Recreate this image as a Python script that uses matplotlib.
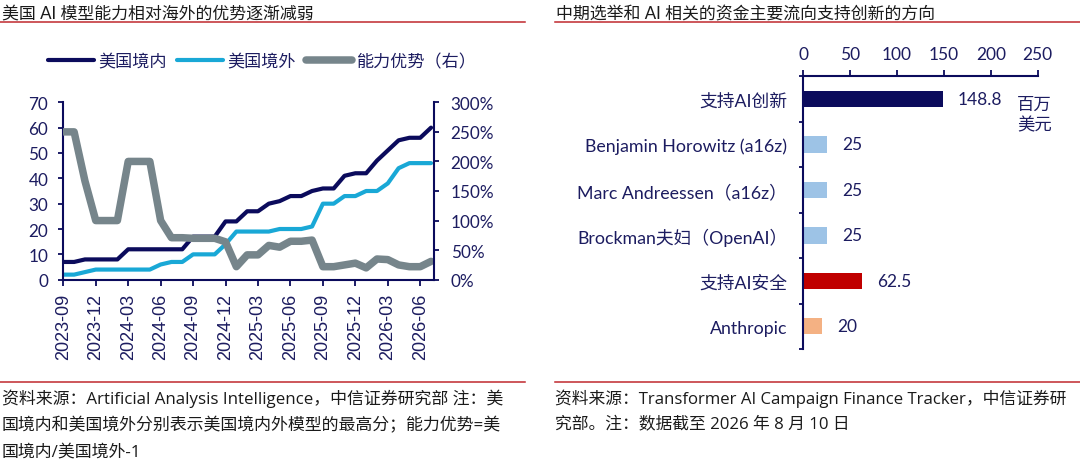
import matplotlib
matplotlib.use('Agg')
import matplotlib.pyplot as plt
from matplotlib.lines import Line2D
from matplotlib.ticker import MultipleLocator, FixedLocator

plt.rcParams['font.family'] = ['Lato', 'Noto Sans CJK SC', 'DejaVu Sans']

# ---------------- data: left chart ----------------
months = ["2023-09", "2023-10", "2023-11", "2023-12", "2024-01", "2024-02", "2024-03",
          "2024-04", "2024-05", "2024-06", "2024-07", "2024-08", "2024-09", "2024-10",
          "2024-11", "2024-12", "2025-01", "2025-02", "2025-03", "2025-04", "2025-05",
          "2025-06", "2025-07", "2025-08", "2025-09", "2025-10", "2025-11", "2025-12",
          "2026-01", "2026-02", "2026-03", "2026-04", "2026-05", "2026-06", "2026-07"]
us_domestic = [7, 7, 8, 8, 8, 8, 12, 12, 12, 12, 12, 12, 17, 17, 17, 23, 23, 27, 27, 30,
               31, 33, 33, 35, 36, 36, 41, 42, 42, 47, 51, 55, 56, 56, 60]
us_overseas = [2, 2, 3, 4, 4, 4, 4, 4, 4, 6, 7, 7, 10, 10, 10, 14, 19, 19, 19, 19,
               20, 20, 20, 21, 30, 30, 33, 33, 35, 35, 38, 44, 46, 46, 46]
advantage_pct = [250, 250, 167, 100, 100, 100, 200, 200, 200, 100, 71, 71, 70, 70, 70, 64,
                 22, 42, 42, 58, 55, 65, 65, 67, 22, 22, 25, 28, 20, 35, 34, 25, 22, 22, 31]
tick_labels = ["2023-09", "2023-12", "2024-03", "2024-06", "2024-09", "2024-12",
               "2025-03", "2025-06", "2025-09", "2025-12", "2026-03", "2026-06"]
series_names = ["美国境内", "美国境外", "能力优势（右）"]

# ---------------- data: right chart ----------------
categories = ["支持AI创新", "Benjamin Horowitz (a16z)", "Marc Andreessen（a16z）",
              "Brockman夫妇（OpenAI）", "支持AI安全", "Anthropic"]
amounts = [148.8, 25, 25, 25, 62.5, 20]
amount_labels = ["148.8", "25", "25", "25", "62.5", "20"]
unit_label = "百万\n美元"

# ---------------- style ----------------
NAVY = '#0b0b5c'
CYAN = '#19a8d6'
GRAY = '#76858b'
TXT_NAVY = '#1c1c60'
RED_RULE = '#c0282d'
BAR_COLORS = ['#0b0b5c', '#9dc3e6', '#9dc3e6', '#9dc3e6', '#c00000', '#f4b183']
TEXT_DARK = '#1a1a1a'
NOTE_FONT = ['Open Sans', 'Noto Sans CJK SC', 'DejaVu Sans']

W, H = 1080, 464
fig = plt.figure(figsize=(W / 100, H / 100), dpi=100)
fig.patch.set_facecolor('white')

def fx(px):
    return px / W

def fy(py):
    return 1 - py / H

# ---------------- left chart ----------------
L, R, T, B = 63.3, 434.3, 103.3, 280.7
ax1 = fig.add_axes([fx(L), fy(B), (R - L) / W, (B - T) / H])
ax2 = ax1.twinx()

x = list(range(len(months)))
l1, = ax1.plot(x, us_domestic, color=NAVY, lw=3.0, solid_capstyle='round',
               solid_joinstyle='round', zorder=3)
l2, = ax1.plot(x, us_overseas, color=CYAN, lw=3.0, solid_capstyle='round',
               solid_joinstyle='round', zorder=2)
l3, = ax2.plot(x, [v / 100 for v in advantage_pct], color=GRAY, lw=5.4,
               solid_capstyle='round', solid_joinstyle='round')

ax1.set_xlim(0, 34.3)
ax1.set_ylim(0, 70)
ax2.set_ylim(0, 3.0)
ax1.yaxis.set_major_locator(MultipleLocator(10))
ax2.set_yticks([0, 0.5, 1.0, 1.5, 2.0, 2.5, 3.0])
ax2.set_yticklabels(['0%', '50%', '100%', '150%', '200%', '250%', '300%'])
tick_pos = [months.index(t) for t in tick_labels]
ax1.set_xticks(tick_pos)
ax1.set_xticklabels(tick_labels, rotation=90, family=['Liberation Sans', 'DejaVu Sans'],
                    fontsize=13)

for a in (ax1, ax2):
    for s in ('left', 'right', 'bottom'):
        a.spines[s].set_color(NAVY)
        a.spines[s].set_linewidth(1.5)
    a.spines['top'].set_visible(False)
    a.set_facecolor('none')
ax1.spines['right'].set_visible(False)
ax2.spines['left'].set_visible(False)
ax2.spines['bottom'].set_visible(False)

ax1.tick_params(axis='y', direction='out', length=3.8, width=1.3, color=NAVY,
                labelcolor=TXT_NAVY, labelsize=12.3, pad=7)
ax1.tick_params(axis='x', direction='out', length=4.5, width=1.3, color=NAVY,
                labelcolor=TXT_NAVY, pad=5)
ax2.tick_params(axis='y', direction='out', length=3.8, width=1.3, color=NAVY,
                labelcolor=TXT_NAVY, labelsize=12.3, pad=8)

fig.legend([l1, l2, l3], series_names, loc='center',
           bbox_to_anchor=(fx(262), fy(62)), ncol=3, frameon=False, fontsize=12.3,
           handlelength=2.7, handletextpad=0.25, columnspacing=0.6,
           labelcolor=TXT_NAVY, borderaxespad=0, borderpad=0)

# ---------------- right chart ----------------
L2, R2, T2, B2 = 803.3, 1037.7, 77.3, 350.0
ax3 = fig.add_axes([fx(L2), fy(B2), (R2 - L2) / W, (B2 - T2) / H])
ypos = list(range(len(categories)))
bars = ax3.barh(ypos, amounts, height=0.36, color=BAR_COLORS, zorder=2)
ax3.set_xlim(0, 250)
ax3.set_ylim(len(categories) - 0.5, -0.5)
ax3.xaxis.tick_top()
ax3.xaxis.set_major_locator(MultipleLocator(50))
ax3.set_yticks(ypos)
ax3.set_yticklabels(categories)
ax3.yaxis.set_minor_locator(FixedLocator([i + 0.5 for i in range(-1, len(categories))]))
for s in ('right', 'bottom'):
    ax3.spines[s].set_visible(False)
for s in ('left', 'top'):
    ax3.spines[s].set_color(NAVY)
    ax3.spines[s].set_linewidth(1.5)
ax3.tick_params(axis='x', direction='out', length=4, width=1.3, color=NAVY,
                labelcolor=TXT_NAVY, labelsize=12.5, pad=6)
ax3.tick_params(axis='y', which='major', length=0, labelcolor=TXT_NAVY,
                labelsize=12.8, pad=11.5)
ax3.tick_params(axis='y', which='minor', direction='out', length=3, width=1.3, color=NAVY)

for b, lab in zip(bars, amount_labels):
    ax3.annotate(lab, xy=(b.get_width(), b.get_y() + b.get_height() / 2),
                 xytext=(11, 0), textcoords='offset points', va='center', ha='left',
                 fontsize=12.5, color=TXT_NAVY)
ax3.text(228, 0.33, unit_label, ha='left', va='center', fontsize=12.5, color=TXT_NAVY,
         linespacing=1.35)

# ---------------- titles, rules, notes ----------------
fig.text(fx(2), fy(13), "美国 AI 模型能力相对海外的优势逐渐减弱", fontsize=12.2,
         color=TEXT_DARK, va='center', ha='left')
fig.text(fx(556), fy(13), "中期选举和 AI 相关的资金主要流向支持创新的方向", fontsize=12.2,
         color=TEXT_DARK, va='center', ha='left')
for (x0, x1) in ((0, 525), (555, 1080)):
    for yy in (22.5, 383.3):
        fig.add_artist(Line2D([fx(x0), fx(x1)], [fy(yy), fy(yy)], color=RED_RULE, lw=1.1))

left_notes = ["资料来源：Artificial Analysis Intelligence，中信证券研究部 注：美",
              "国境内和美国境外分别表示美国境内外模型的最高分；能力优势=美",
              "国境内/美国境外-1"]
for i, t in enumerate(left_notes):
    fig.text(fx(2), fy(399 + 26.6 * i), t, fontsize=12.2, color=TEXT_DARK,
             va='center', ha='left', family=NOTE_FONT)
right_notes = ["资料来源：Transformer AI Campaign Finance Tracker，中信证券研",
               "究部。注：数据截至 2026 年 8 月 10 日"]
for i, t in enumerate(right_notes):
    fig.text(fx(555), fy(399 + 26.3 * i), t, fontsize=12.1, color=TEXT_DARK,
             va='center', ha='left', family=NOTE_FONT)

fig.savefig('out.png', dpi=100, facecolor='white')
